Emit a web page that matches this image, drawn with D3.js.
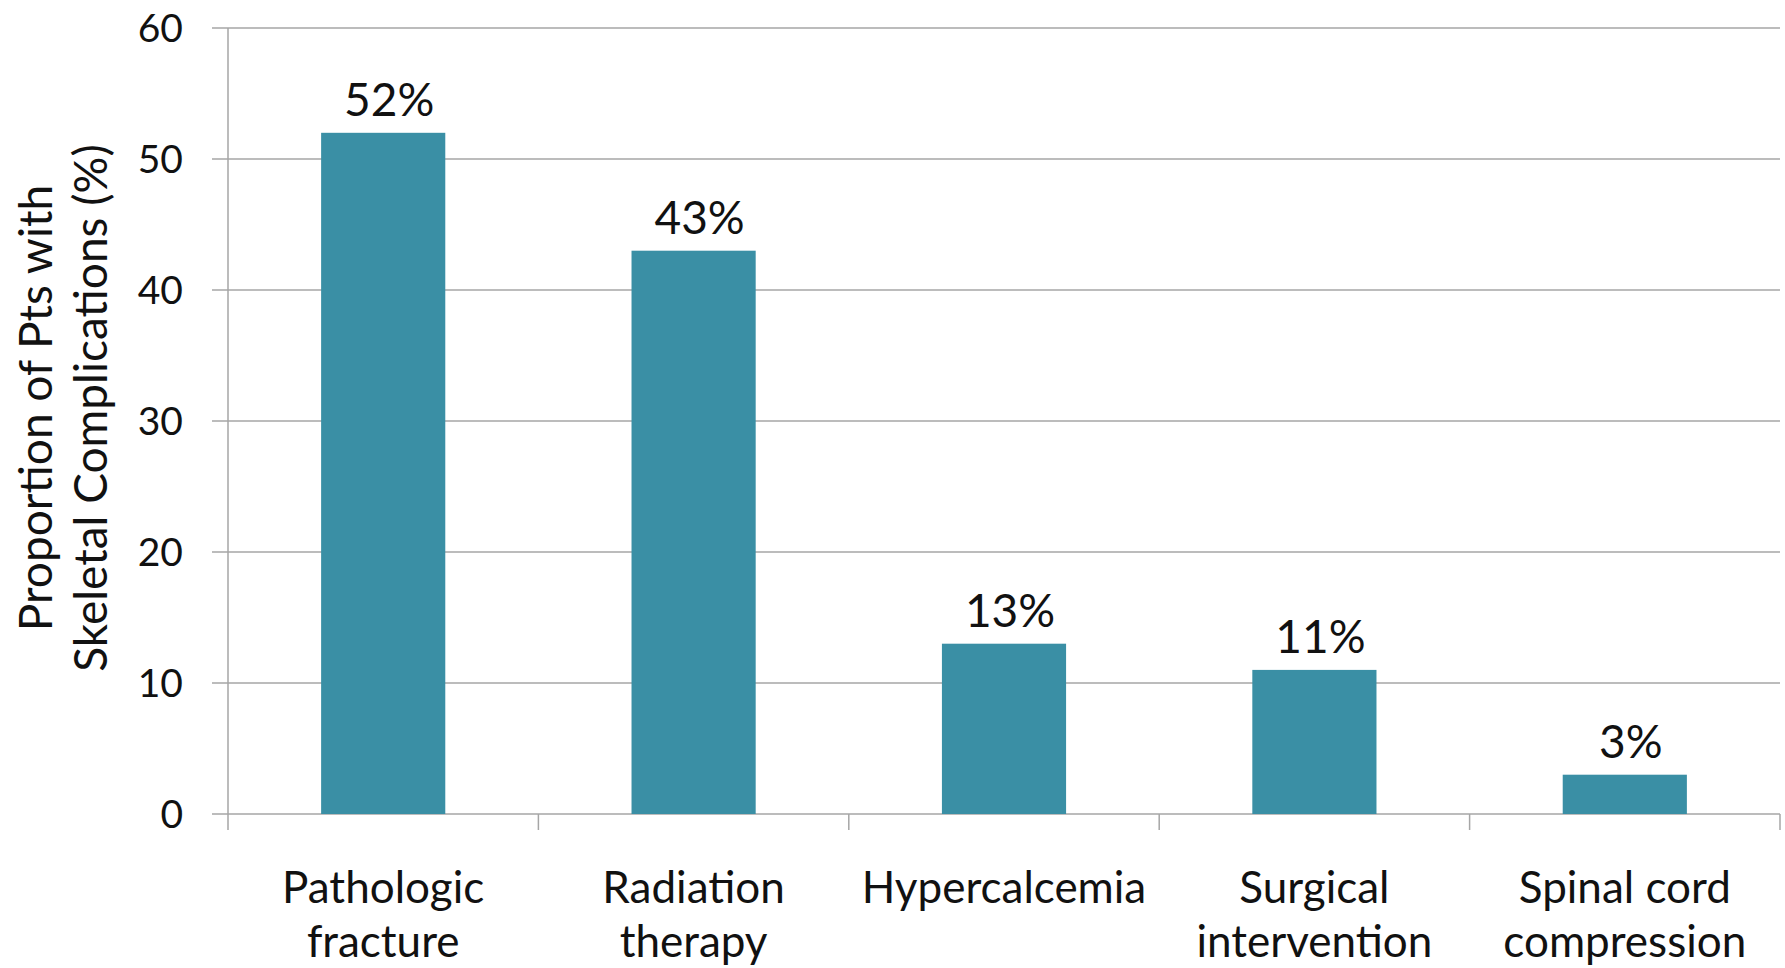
<!DOCTYPE html>
<html><head><meta charset="utf-8">
<script src="https://cdn.jsdelivr.net/npm/d3@7"></script>
<style>html,body{margin:0;padding:0;background:#fff;}svg{display:block;}</style>
</head><body>
<svg id="c" width="1785" height="968"></svg>
<script>
const categories = [["Pathologic","fracture"],["Radiation","therapy"],["Hypercalcemia"],["Surgical","intervention"],["Spinal cord","compression"]];
const values = [52, 43, 13, 11, 3];
const valueLabels = ["52%","43%","13%","11%","3%"];
const yTicks = [0,10,20,30,40,50,60];
const yTitle = ["Proportion of Pts with","Skeletal Complications (%)"];

const FONT = "Lato, 'Open Sans', sans-serif";
const svg = d3.select("#c");
const L = 228, R = 1780, T = 28, B = 814;
const x = d3.scaleBand().domain(d3.range(values.length)).range([L, R]).padding(0);
const y = d3.scaleLinear().domain([0, 60]).range([B, T]);

// gridlines
svg.append("g").selectAll("line").data(yTicks).join("line")
  .attr("x1", L - 16).attr("x2", R).attr("y1", d => y(d)).attr("y2", d => y(d))
  .attr("stroke", "#a6a6a6").attr("stroke-width", 1.5);
// y axis line
svg.append("line").attr("x1", L).attr("x2", L).attr("y1", T).attr("y2", B + 16)
  .attr("stroke", "#a6a6a6").attr("stroke-width", 1.5);
// category ticks
const catTicks = d3.range(values.length + 1).map(i => i < values.length ? x(i) : R);
svg.append("g").selectAll("line").data(catTicks.slice(1)).join("line")
  .attr("x1", d => d).attr("x2", d => d).attr("y1", B).attr("y2", B + 16)
  .attr("stroke", "#a6a6a6").attr("stroke-width", 1.5);

// y tick labels
svg.append("g").selectAll("text").data(yTicks).join("text")
  .attr("x", 183).attr("y", d => y(d)).attr("dy", "0.35em")
  .attr("text-anchor", "end").attr("font-family", FONT).attr("font-size", 39).attr("fill", "#111")
  .text(d => d);

// bars
const bw = x.bandwidth() * 0.4;
svg.append("g").selectAll("rect").data(values).join("rect")
  .attr("x", (d, i) => x(i) + x.bandwidth() / 2 - bw / 2)
  .attr("width", bw)
  .attr("y", d => y(d)).attr("height", d => B - y(d))
  .attr("fill", "#3a8fa5");

// value labels
svg.append("g").selectAll("text").data(values).join("text")
  .attr("x", (d, i) => x(i) + x.bandwidth() / 2 + 6)
  .attr("y", d => y(d) - 17)
  .attr("text-anchor", "middle").attr("font-family", FONT).attr("font-size", 46).attr("fill", "#111")
  .text((d, i) => valueLabels[i]);

// category labels
const cg = svg.append("g").selectAll("text").data(categories).join("text")
  .attr("x", (d, i) => x(i) + x.bandwidth() / 2)
  .attr("text-anchor", "middle").attr("font-family", FONT).attr("font-size", 44).attr("fill", "#111");
cg.each(function(d) {
  const t = d3.select(this);
  d.forEach((line, k) => {
    t.append("tspan").attr("x", t.attr("x")).attr("y", 903 + k * 54).text(line);
  });
});

// y title
const yt = svg.append("text").attr("transform", "translate(0,408) rotate(-90)")
  .attr("text-anchor", "middle").attr("font-family", FONT).attr("font-size", 46).attr("fill", "#111");
yTitle.forEach((line, k) => {
  yt.append("tspan").attr("x", 0).attr("y", 52 + k * 55).text(line);
});
</script>
</body></html>
